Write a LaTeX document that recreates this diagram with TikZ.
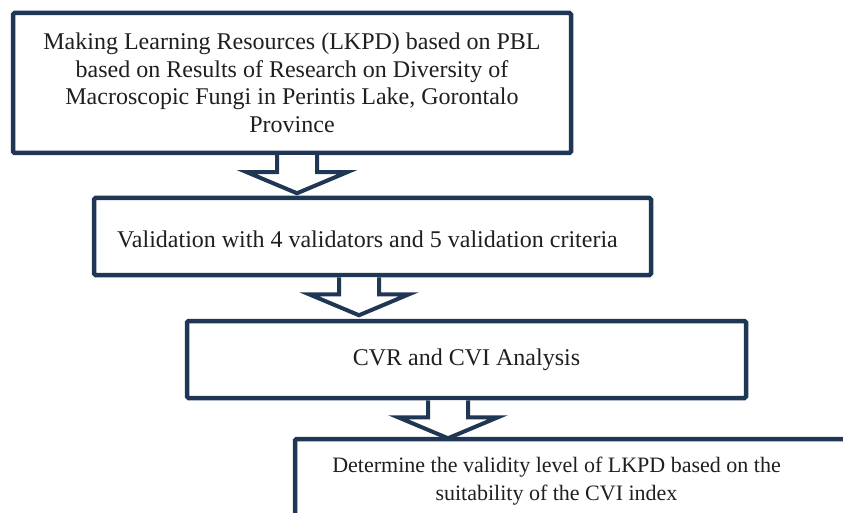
\documentclass[tikz,border=0pt]{standalone}
\usepackage{fontspec}
\setmainfont{Liberation Serif}
\usetikzlibrary{calc}
\definecolor{navy}{RGB}{31,54,84}
\tikzset{
  box/.style={draw=navy, line width=4.5pt, rounded corners=1.5pt, fill=white, inner sep=0pt, align=center,
    font=\fontsize{24}{27.5}\selectfont, text=black!88},
  txt/.style={inner sep=0pt, align=center, font=\fontsize{24}{27.5}\selectfont, text=black!88},
  blockarr/.style={draw=navy, line width=4pt, fill=white, line join=miter}
}
\newcommand{\hollowarrow}[1]{%
  \draw[blockarr] ($(#1)+(-20,0)$) -- ++(0,17) -- ++(-30,0) -- ++(50,21) -- ++(50,-21) -- ++(-30,0) -- ++(0,-17);}
\begin{document}
\begin{tikzpicture}[x=1pt,y=-1pt]
\useasboundingbox (0,0) rectangle (843,513);
\clip (0,0) rectangle (843,513);
\node[box, minimum width=558pt, minimum height=140pt] (b1) at (292,83)
  {Making Learning Resources (LKPD) based on PBL\\based on Results of Research on Diversity of\\Macroscopic Fungi in Perintis Lake, Gorontalo\\Province};
\node[box, minimum width=557pt, minimum height=77pt] (b2) at (372.5,236.5) {};
\node[txt] (t2) at (367.5,239) {Validation with 4 validators and 5 validation criteria};
\node[box, minimum width=559pt, minimum height=77pt] (b3) at (466.5,359.5) {CVR and CVI Analysis};
\node[box, minimum width=620pt, minimum height=140pt] (b4) at (605,509) {};
\node[txt, font=\fontsize{22}{28}\selectfont] (t4) at (556.5,481) {Determine the validity level of LKPD based on the\\suitability of the CVI index};
\coordinate (a1) at ($(b1.south)+(5,0)$);
\coordinate (a2) at ($(b2.south)+(-13.5,0)$);
\coordinate (a3) at ($(b3.south)+(-18.5,0)$);
\hollowarrow{a1}
\hollowarrow{a2}
\hollowarrow{a3}
\end{tikzpicture}
\end{document}
